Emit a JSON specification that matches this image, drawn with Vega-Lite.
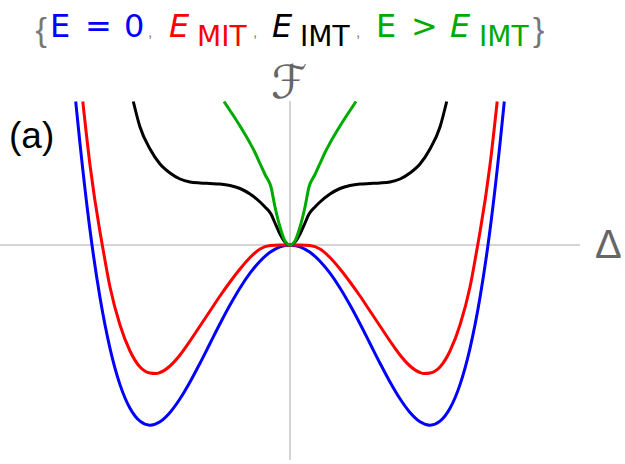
{
  "$schema": "https://vega.github.io/schema/vega-lite/v6.json",
  "width": 625,
  "height": 464,
  "autosize": "none",
  "padding": 0,
  "background": "white",
  "config": {"view": {"stroke": null}},
  "datasets": {
    "axes": [
      {"x0": -2.9, "x1": 2.9, "y0": 0, "y1": 0},
      {"x0": 0, "x1": 0, "y0": -2.15, "y1": 1.44}
    ],
    "curves": [
      {"s": "E = 0", "x": -2.143, "y": 1.435}, {"s": "E = 0", "x": -2.1, "y": 1.014}, {"s": "E = 0", "x": -2.0, "y": 0.15}, {"s": "E = 0", "x": -1.9, "y": -0.525}, {"s": "E = 0", "x": -1.8, "y": -1.033}, {"s": "E = 0", "x": -1.7, "y": -1.396}, {"s": "E = 0", "x": -1.6, "y": -1.633}, {"s": "E = 0", "x": -1.5, "y": -1.762}, {"s": "E = 0", "x": -1.4, "y": -1.802}, {"s": "E = 0", "x": -1.3, "y": -1.768}, {"s": "E = 0", "x": -1.2, "y": -1.675}, {"s": "E = 0", "x": -1.1, "y": -1.538}, {"s": "E = 0", "x": -1.0, "y": -1.37}, {"s": "E = 0", "x": -0.9, "y": -1.182}, {"s": "E = 0", "x": -0.8, "y": -0.985}, {"s": "E = 0", "x": -0.7, "y": -0.788}, {"s": "E = 0", "x": -0.6, "y": -0.601}, {"s": "E = 0", "x": -0.5, "y": -0.43}, {"s": "E = 0", "x": -0.4, "y": -0.282}, {"s": "E = 0", "x": -0.3, "y": -0.162}, {"s": "E = 0", "x": -0.2, "y": -0.073}, {"s": "E = 0", "x": -0.1, "y": -0.018}, {"s": "E = 0", "x": 0, "y": 0},
      {"s": "E = 0", "x": 0.1, "y": -0.018}, {"s": "E = 0", "x": 0.2, "y": -0.073}, {"s": "E = 0", "x": 0.3, "y": -0.162}, {"s": "E = 0", "x": 0.4, "y": -0.282}, {"s": "E = 0", "x": 0.5, "y": -0.43}, {"s": "E = 0", "x": 0.6, "y": -0.601}, {"s": "E = 0", "x": 0.7, "y": -0.788}, {"s": "E = 0", "x": 0.8, "y": -0.985}, {"s": "E = 0", "x": 0.9, "y": -1.182}, {"s": "E = 0", "x": 1.0, "y": -1.37}, {"s": "E = 0", "x": 1.1, "y": -1.538}, {"s": "E = 0", "x": 1.2, "y": -1.675}, {"s": "E = 0", "x": 1.3, "y": -1.768}, {"s": "E = 0", "x": 1.4, "y": -1.802}, {"s": "E = 0", "x": 1.5, "y": -1.762}, {"s": "E = 0", "x": 1.6, "y": -1.633}, {"s": "E = 0", "x": 1.7, "y": -1.396}, {"s": "E = 0", "x": 1.8, "y": -1.033}, {"s": "E = 0", "x": 1.9, "y": -0.525}, {"s": "E = 0", "x": 2.0, "y": 0.15}, {"s": "E = 0", "x": 2.1, "y": 1.014}, {"s": "E = 0", "x": 2.143, "y": 1.435},

      {"s": "E_MIT", "x": -2.072, "y": 1.435}, {"s": "E_MIT", "x": -2.0, "y": 0.8}, {"s": "E_MIT", "x": -1.9, "y": 0.13}, {"s": "E_MIT", "x": -1.877, "y": 0}, {"s": "E_MIT", "x": -1.8, "y": -0.42}, {"s": "E_MIT", "x": -1.7, "y": -0.8}, {"s": "E_MIT", "x": -1.6, "y": -1.06}, {"s": "E_MIT", "x": -1.5, "y": -1.22}, {"s": "E_MIT", "x": -1.4, "y": -1.28}, {"s": "E_MIT", "x": -1.34, "y": -1.285}, {"s": "E_MIT", "x": -1.3, "y": -1.275}, {"s": "E_MIT", "x": -1.2, "y": -1.21}, {"s": "E_MIT", "x": -1.1, "y": -1.1}, {"s": "E_MIT", "x": -1.0, "y": -0.96}, {"s": "E_MIT", "x": -0.9, "y": -0.81}, {"s": "E_MIT", "x": -0.8, "y": -0.66}, {"s": "E_MIT", "x": -0.7, "y": -0.51}, {"s": "E_MIT", "x": -0.6, "y": -0.37}, {"s": "E_MIT", "x": -0.5, "y": -0.24}, {"s": "E_MIT", "x": -0.4, "y": -0.125}, {"s": "E_MIT", "x": -0.3, "y": -0.04}, {"s": "E_MIT", "x": -0.2, "y": -0.005}, {"s": "E_MIT", "x": -0.1, "y": 0}, {"s": "E_MIT", "x": 0, "y": 0},
      {"s": "E_MIT", "x": 0.1, "y": 0}, {"s": "E_MIT", "x": 0.2, "y": -0.005}, {"s": "E_MIT", "x": 0.3, "y": -0.04}, {"s": "E_MIT", "x": 0.4, "y": -0.125}, {"s": "E_MIT", "x": 0.5, "y": -0.24}, {"s": "E_MIT", "x": 0.6, "y": -0.37}, {"s": "E_MIT", "x": 0.7, "y": -0.51}, {"s": "E_MIT", "x": 0.8, "y": -0.66}, {"s": "E_MIT", "x": 0.9, "y": -0.81}, {"s": "E_MIT", "x": 1.0, "y": -0.96}, {"s": "E_MIT", "x": 1.1, "y": -1.1}, {"s": "E_MIT", "x": 1.2, "y": -1.21}, {"s": "E_MIT", "x": 1.3, "y": -1.275}, {"s": "E_MIT", "x": 1.34, "y": -1.285}, {"s": "E_MIT", "x": 1.4, "y": -1.28}, {"s": "E_MIT", "x": 1.5, "y": -1.22}, {"s": "E_MIT", "x": 1.6, "y": -1.06}, {"s": "E_MIT", "x": 1.7, "y": -0.8}, {"s": "E_MIT", "x": 1.8, "y": -0.42}, {"s": "E_MIT", "x": 1.877, "y": 0}, {"s": "E_MIT", "x": 1.9, "y": 0.13}, {"s": "E_MIT", "x": 2.0, "y": 0.8}, {"s": "E_MIT", "x": 2.072, "y": 1.435},

      {"s": "E_IMT", "x": -1.567, "y": 1.435}, {"s": "E_IMT", "x": -1.5, "y": 1.18}, {"s": "E_IMT", "x": -1.4, "y": 0.96}, {"s": "E_IMT", "x": -1.3, "y": 0.81}, {"s": "E_IMT", "x": -1.2, "y": 0.72}, {"s": "E_IMT", "x": -1.1, "y": 0.66}, {"s": "E_IMT", "x": -1.0, "y": 0.63}, {"s": "E_IMT", "x": -0.9, "y": 0.62}, {"s": "E_IMT", "x": -0.8, "y": 0.615}, {"s": "E_IMT", "x": -0.7, "y": 0.61}, {"s": "E_IMT", "x": -0.6, "y": 0.595}, {"s": "E_IMT", "x": -0.5, "y": 0.565}, {"s": "E_IMT", "x": -0.4, "y": 0.51}, {"s": "E_IMT", "x": -0.3, "y": 0.43}, {"s": "E_IMT", "x": -0.25, "y": 0.38}, {"s": "E_IMT", "x": -0.19, "y": 0.31}, {"s": "E_IMT", "x": -0.15, "y": 0.22}, {"s": "E_IMT", "x": -0.1, "y": 0.11}, {"s": "E_IMT", "x": -0.05, "y": 0.03}, {"s": "E_IMT", "x": 0, "y": 0},
      {"s": "E_IMT", "x": 0.05, "y": 0.03}, {"s": "E_IMT", "x": 0.1, "y": 0.11}, {"s": "E_IMT", "x": 0.15, "y": 0.22}, {"s": "E_IMT", "x": 0.19, "y": 0.31}, {"s": "E_IMT", "x": 0.25, "y": 0.38}, {"s": "E_IMT", "x": 0.3, "y": 0.43}, {"s": "E_IMT", "x": 0.4, "y": 0.51}, {"s": "E_IMT", "x": 0.5, "y": 0.565}, {"s": "E_IMT", "x": 0.6, "y": 0.595}, {"s": "E_IMT", "x": 0.7, "y": 0.61}, {"s": "E_IMT", "x": 0.8, "y": 0.615}, {"s": "E_IMT", "x": 0.9, "y": 0.62}, {"s": "E_IMT", "x": 1.0, "y": 0.63}, {"s": "E_IMT", "x": 1.1, "y": 0.66}, {"s": "E_IMT", "x": 1.2, "y": 0.72}, {"s": "E_IMT", "x": 1.3, "y": 0.81}, {"s": "E_IMT", "x": 1.4, "y": 0.96}, {"s": "E_IMT", "x": 1.5, "y": 1.18}, {"s": "E_IMT", "x": 1.567, "y": 1.435},

      {"s": "E > E_IMT", "x": -0.66, "y": 1.435}, {"s": "E > E_IMT", "x": -0.6, "y": 1.345}, {"s": "E > E_IMT", "x": -0.5, "y": 1.19}, {"s": "E > E_IMT", "x": -0.4, "y": 1.02}, {"s": "E > E_IMT", "x": -0.35, "y": 0.925}, {"s": "E > E_IMT", "x": -0.3, "y": 0.815}, {"s": "E > E_IMT", "x": -0.25, "y": 0.705}, {"s": "E > E_IMT", "x": -0.19, "y": 0.58}, {"s": "E > E_IMT", "x": -0.15, "y": 0.38}, {"s": "E > E_IMT", "x": -0.1, "y": 0.18}, {"s": "E > E_IMT", "x": -0.05, "y": 0.04}, {"s": "E > E_IMT", "x": 0, "y": 0},
      {"s": "E > E_IMT", "x": 0.05, "y": 0.04}, {"s": "E > E_IMT", "x": 0.1, "y": 0.18}, {"s": "E > E_IMT", "x": 0.15, "y": 0.38}, {"s": "E > E_IMT", "x": 0.19, "y": 0.58}, {"s": "E > E_IMT", "x": 0.25, "y": 0.705}, {"s": "E > E_IMT", "x": 0.3, "y": 0.815}, {"s": "E > E_IMT", "x": 0.35, "y": 0.925}, {"s": "E > E_IMT", "x": 0.4, "y": 1.02}, {"s": "E > E_IMT", "x": 0.5, "y": 1.19}, {"s": "E > E_IMT", "x": 0.6, "y": 1.345}, {"s": "E > E_IMT", "x": 0.66, "y": 1.435}
    ],
    "mainUpright": [
      {"s": "E = 0", "t": "E", "x": -2.4, "y": 2.08},
      {"s": "E = 0", "t": "=", "x": -2.05, "y": 2.08},
      {"s": "E = 0", "t": "0", "x": -1.66, "y": 2.08},
      {"s": "E > E_IMT", "t": "E", "x": 0.86, "y": 2.08},
      {"s": "E > E_IMT", "t": ">", "x": 1.21, "y": 2.08}
    ],
    "mainItalic": [
      {"s": "E_MIT", "t": "E", "x": -1.21, "y": 2.08},
      {"s": "E_IMT", "t": "E", "x": -0.18, "y": 2.08},
      {"s": "E > E_IMT", "t": "E", "x": 1.6, "y": 2.08}
    ],
    "subs": [
      {"s": "E_MIT", "t": "MIT", "x": -0.93, "y": 1.99},
      {"s": "E_IMT", "t": "IMT", "x": 0.1, "y": 1.99},
      {"s": "E > E_IMT", "t": "IMT", "x": 1.89, "y": 1.99}
    ],
    "braces": [
      {"t": "{", "x": -2.545, "y": 2.04},
      {"t": "}", "x": 2.43, "y": 2.04}
    ],
    "commas": [
      {"t": ",", "x": -1.42, "y": 2.08},
      {"t": ",", "x": -0.37, "y": 2.08},
      {"t": ",", "x": 0.66, "y": 2.08}
    ],
    "script": [{"t": "ℱ", "x": -0.01, "y": 1.47}],
    "panel": [{"t": "(a)", "x": -2.81, "y": 0.97}],
    "delta": [{"t": "Δ", "x": 3.05, "y": -0.13}]
  },
  "resolve": {"scale": {"color": "shared"}},
  "layer": [
    {
      "data": {"name": "axes"},
      "mark": {"type": "rule", "color": "#aaaaaa", "strokeWidth": 1},
      "encoding": {
        "x": {"field": "x0", "type": "quantitative", "scale": {"domain": [-2.9, 3.35], "nice": false, "zero": false}, "axis": null},
        "x2": {"field": "x1"},
        "y": {"field": "y0", "type": "quantitative", "scale": {"domain": [-2.19, 2.45], "nice": false, "zero": false}, "axis": null},
        "y2": {"field": "y1"}
      }
    },
    {
      "data": {"name": "curves"},
      "mark": {"type": "line", "strokeWidth": 3, "interpolate": "monotone"},
      "encoding": {
        "x": {"field": "x", "type": "quantitative"},
        "y": {"field": "y", "type": "quantitative"},
        "color": {"field": "s", "type": "nominal", "legend": null,
          "scale": {"domain": ["E = 0", "E_MIT", "E_IMT", "E > E_IMT"], "range": ["#0000ff", "#ff0000", "#000000", "#00aa00"]}},
        "order": {"field": "x", "type": "quantitative"}
      }
    },
    {
      "data": {"name": "mainUpright"},
      "mark": {"type": "text", "font": "DejaVu Sans", "fontSize": 32, "align": "left", "baseline": "alphabetic"},
      "encoding": {
        "x": {"field": "x", "type": "quantitative"},
        "y": {"field": "y", "type": "quantitative"},
        "text": {"field": "t"},
        "color": {"field": "s", "type": "nominal", "legend": null}
      }
    },
    {
      "data": {"name": "mainItalic"},
      "mark": {"type": "text", "font": "DejaVu Sans", "fontSize": 32, "fontStyle": "italic", "align": "left", "baseline": "alphabetic"},
      "encoding": {
        "x": {"field": "x", "type": "quantitative"},
        "y": {"field": "y", "type": "quantitative"},
        "text": {"field": "t"},
        "color": {"field": "s", "type": "nominal", "legend": null}
      }
    },
    {
      "data": {"name": "subs"},
      "mark": {"type": "text", "font": "DejaVu Sans", "fontSize": 28, "align": "left", "baseline": "alphabetic"},
      "encoding": {
        "x": {"field": "x", "type": "quantitative"},
        "y": {"field": "y", "type": "quantitative"},
        "text": {"field": "t"},
        "color": {"field": "s", "type": "nominal", "legend": null}
      }
    },
    {
      "data": {"name": "braces"},
      "mark": {"type": "text", "font": "Liberation Sans", "fontSize": 34, "align": "left", "baseline": "alphabetic", "color": "#777777"},
      "encoding": {
        "x": {"field": "x", "type": "quantitative"},
        "y": {"field": "y", "type": "quantitative"},
        "text": {"field": "t"}
      }
    },
    {
      "data": {"name": "commas"},
      "mark": {"type": "text", "font": "Liberation Sans", "fontSize": 15, "align": "left", "baseline": "alphabetic", "color": "#777777"},
      "encoding": {
        "x": {"field": "x", "type": "quantitative"},
        "y": {"field": "y", "type": "quantitative"},
        "text": {"field": "t"}
      }
    },
    {
      "data": {"name": "script"},
      "mark": {"type": "text", "font": "DejaVu Sans", "fontSize": 46, "fontStyle": "italic", "align": "center", "baseline": "alphabetic", "color": "#666666"},
      "encoding": {
        "x": {"field": "x", "type": "quantitative"},
        "y": {"field": "y", "type": "quantitative"},
        "text": {"field": "t"}
      }
    },
    {
      "data": {"name": "panel"},
      "mark": {"type": "text", "font": "Liberation Sans", "fontSize": 37, "align": "left", "baseline": "alphabetic", "color": "#000000"},
      "encoding": {
        "x": {"field": "x", "type": "quantitative"},
        "y": {"field": "y", "type": "quantitative"},
        "text": {"field": "t"}
      }
    },
    {
      "data": {"name": "delta"},
      "mark": {"type": "text", "font": "Liberation Sans", "fontSize": 40, "align": "left", "baseline": "alphabetic", "color": "#666666"},
      "encoding": {
        "x": {"field": "x", "type": "quantitative"},
        "y": {"field": "y", "type": "quantitative"},
        "text": {"field": "t"}
      }
    }
  ]
}
